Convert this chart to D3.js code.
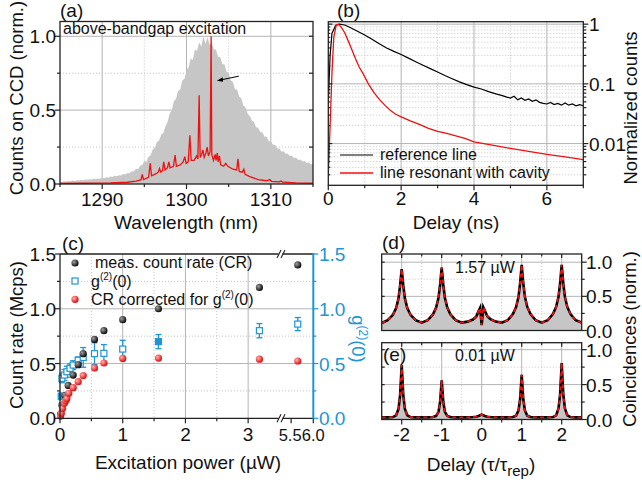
<!DOCTYPE html>
<html>
<head>
<meta charset="utf-8">
<script src="https://cdn.jsdelivr.net/npm/d3@7"></script>
<style>
  body { margin: 0; background: #fff; }
  svg text { font-family: Arial, "Liberation Sans", sans-serif; fill: #111; }
</style>
</head>
<body>
<div id="chart"></div>
<script>
// ---- (a) spectra ----
const specStart = 1285, specStep = 0.25;
const bgSpectrum = [
  0.015,0.014,0.019,0.017,0.021,0.019,0.023,0.021,0.025,0.023,0.028,0.026,0.031,0.028,0.033,0.031,
  0.036,0.033,0.038,0.036,0.042,0.039,0.046,0.043,0.05,0.047,0.056,0.052,0.06,0.058,0.068,0.064,
  0.075,0.072,0.086,0.085,0.103,0.1,0.124,0.128,0.155,0.15,0.185,0.195,0.235,0.245,0.285,0.295,
  0.335,0.345,0.39,0.42,0.475,0.5,0.56,0.575,0.63,0.64,0.70,0.71,0.77,0.79,0.85,0.84,
  0.91,0.9,0.96,0.93,1.0,0.95,0.995,0.94,0.96,0.91,0.91,0.86,0.86,0.81,0.81,0.76,
  0.75,0.7,0.69,0.64,0.64,0.59,0.58,0.53,0.52,0.475,0.46,0.43,0.42,0.385,0.38,0.35,
  0.35,0.32,0.32,0.29,0.29,0.265,0.265,0.24,0.24,0.22,0.222,0.205,0.207,0.19,0.192,0.176,
  0.178,0.163,0.166,0.153,0.156,0.143,0.146,0.133,0.135];
const cavitySpectrum = [[1285,0.004],[1288,0.005],[1291,0.007],[1293,0.012],[1294.0,0.02],[1294.6,0.028],[1294.75,0.065],[1294.9,0.03],
  [1295.5,0.045],[1295.7,0.14],[1295.85,0.055],[1296.4,0.07],[1296.65,0.08],[1296.8,0.105],[1296.95,0.08],[1297.15,0.09],[1297.3,0.15],
  [1297.45,0.095],[1297.75,0.11],[1297.9,0.15],[1298.05,0.11],[1298.45,0.12],[1298.65,0.196],[1298.8,0.12],[1299.3,0.13],[1299.6,0.15],
  [1299.8,0.185],[1299.95,0.14],[1300.2,0.15],[1300.4,0.33],[1300.55,0.16],[1300.9,0.16],[1301.2,0.19],[1301.35,0.17],[1301.5,0.6],
  [1301.62,0.18],[1301.8,0.2],[1301.95,0.23],[1302.1,0.18],[1302.3,0.21],[1302.45,0.25],[1302.6,0.19],[1302.8,0.22],[1302.92,1.0],
  [1303.0,0.2],[1303.2,0.16],[1303.4,0.2],[1303.5,0.16],[1303.65,0.21],[1303.75,0.15],[1303.9,0.19],[1304.05,0.13],[1304.4,0.12],
  [1304.65,0.14],[1304.9,0.12],[1305.5,0.1],[1305.95,0.095],[1306.1,0.17],[1306.25,0.085],[1306.6,0.08],[1306.8,0.1],[1306.95,0.065],
  [1307.5,0.05],[1308.5,0.03],[1309.5,0.022],[1309.85,0.03],[1310.1,0.018],[1311,0.014],[1311.2,0.02],[1311.4,0.012],[1313,0.007],[1315,0.005]];

// ---- (b) decay curves ----
const decayRef = [[0,0.05],[0.05,0.3],[0.1,0.7],[0.2,0.95],[0.3,1.0],[0.45,0.97],[0.6,0.88],[0.8,0.76],[1.0,0.66],[1.2,0.56],
  [1.4,0.47],[1.6,0.4],[1.8,0.35],[2.0,0.31],[2.2,0.27],[2.4,0.235],[2.6,0.205],[2.8,0.18],[3.0,0.158],[3.2,0.138],
  [3.4,0.122],[3.6,0.108],[3.8,0.097],[4.0,0.088],[4.2,0.082],[4.4,0.074],[4.6,0.068],[4.8,0.063],[4.9,0.06],[5.0,0.058],
  [5.1,0.062],[5.2,0.054],[5.3,0.058],[5.4,0.053],[5.5,0.056],[5.6,0.051],[5.7,0.054],[5.8,0.049],[5.9,0.047],[6.0,0.046],
  [6.1,0.049],[6.2,0.045],[6.3,0.047],[6.4,0.044],[6.5,0.048],[6.6,0.044],[6.7,0.046],[6.8,0.043],[6.9,0.045],[7.0,0.043]];
const decayCav = [[0,0.003],[0.05,0.02],[0.1,0.15],[0.15,0.6],[0.22,0.97],[0.27,1.0],[0.35,0.9],[0.45,0.72],[0.55,0.52],[0.65,0.37],
  [0.75,0.26],[0.85,0.19],[0.95,0.15],[1.1,0.1],[1.25,0.072],[1.4,0.055],[1.55,0.044],[1.7,0.036],[1.85,0.031],[2.0,0.028],
  [2.25,0.024],[2.5,0.021],[2.75,0.018],[3.0,0.016],[3.25,0.0148],[3.5,0.0135],[3.75,0.0122],[4.0,0.0107],[4.5,0.0094],
  [5.0,0.0083],[5.5,0.0074],[6.0,0.0066],[6.5,0.006],[7.0,0.0054]];

// ---- (c) power series ----
const powerCR = [0.01,0.03,0.08,0.13,0.21,0.29,0.37,0.55,0.70,1.0,1.57,3.18,5.65];
const measCR  = [0.04,0.12,0.21,0.30,0.395,0.49,0.59,0.72,0.80,0.90,1.0,1.195,1.4];
const powerCorr = [0.01,0.02,0.04,0.07,0.09,0.11,0.14,0.21,0.29,0.37,0.55,0.70,1.0,1.57,3.18,5.65];
const corrCR    = [0.02,0.045,0.09,0.137,0.16,0.18,0.228,0.28,0.334,0.39,0.46,0.505,0.547,0.55,0.54,0.523];
const powerG2 = [0.02,0.03,0.07,0.11,0.16,0.21,0.29,0.37,0.55,0.70,1.0,1.57,3.18,5.65];
const g2      = [0.2,0.365,0.395,0.425,0.456,0.486,0.53,0.556,0.59,0.593,0.632,0.70,0.80,0.86];
const g2Err   = [0.03,0.04,0.05,0.05,0.04,0.04,0.03,0.09,0.1,0.08,0.08,0.065,0.065,0.06];
const g2Solid = [true,false,false,false,false,false,false,false,false,false,false,true,false,false];

// ---- (d),(e) coincidence histograms ----
const peakCenters = [-2,-1,0,1,2];
const peakOffsets = [-0.5,-0.35,-0.22,-0.14,-0.08,-0.04,0,0.04,0.08,0.14,0.22,0.35];
const coincD = [
  [0.11,0.15,0.23,0.33,0.47,0.66,0.9,0.66,0.47,0.33,0.23,0.15],
  [0.115,0.15,0.235,0.335,0.48,0.67,0.92,0.67,0.48,0.335,0.235,0.15],
  [0.115,0.13,0.16,0.2,0.28,0.33,0.08,0.34,0.29,0.21,0.165,0.13],
  [0.115,0.15,0.24,0.345,0.495,0.69,0.96,0.69,0.495,0.345,0.24,0.15],
  [0.115,0.15,0.24,0.345,0.495,0.69,0.96,0.69,0.495,0.345,0.24,0.15]];
const coincDEnd = 0.115;
const coincE = [
  [0.03,0.03,0.035,0.06,0.15,0.35,0.78,0.35,0.15,0.06,0.035,0.03],
  [0.03,0.03,0.035,0.05,0.11,0.25,0.56,0.25,0.11,0.05,0.035,0.03],
  [0.03,0.03,0.035,0.04,0.05,0.06,0.07,0.06,0.05,0.04,0.035,0.03],
  [0.03,0.03,0.035,0.055,0.13,0.29,0.64,0.29,0.13,0.055,0.035,0.03],
  [0.03,0.03,0.035,0.06,0.16,0.36,0.81,0.36,0.16,0.06,0.035,0.03]];
const coincEEnd = 0.03;

const BLUE = "#1e96d4";
const RED = "#ee1111";
const FS = 19;

const svg = d3.select("#chart").append("svg").attr("width", 642).attr("height", 485);
const defs = svg.append("defs");

function ballGrad(id, c0, c1) {
  const g = defs.append("radialGradient").attr("id", id)
    .attr("cx", "35%").attr("cy", "35%").attr("r", "70%");
  g.append("stop").attr("offset", "0%").attr("stop-color", c0);
  g.append("stop").attr("offset", "100%").attr("stop-color", c1);
}
ballGrad("ballK", "#a0a0a0", "#000");
ballGrad("ballR", "#ffb4b4", "#e00000");

defs.append("marker").attr("id", "arr").attr("viewBox", "0 0 10 10")
  .attr("refX", 9).attr("refY", 5).attr("markerWidth", 6).attr("markerHeight", 6)
  .attr("orient", "auto")
  .append("path").attr("d", "M0,1 L10,5 L0,9 z").attr("fill", "#000");

function clip(id, x0, x1, y0, y1) {
  defs.append("clipPath").attr("id", id).append("rect")
    .attr("x", x0).attr("y", y0).attr("width", x1 - x0).attr("height", y1 - y0);
}

// gridlines: solid majors, dotted minors
function grid(g, xs, ys, x0, x1, y0, y1, solidX, dotX, solidY, dotY) {
  solidX.forEach(v => g.append("line").attr("x1", xs(v)).attr("x2", xs(v)).attr("y1", y0).attr("y2", y1)
    .attr("stroke", "#b4b4b4").attr("stroke-width", 1));
  dotX.forEach(v => g.append("line").attr("x1", xs(v)).attr("x2", xs(v)).attr("y1", y0).attr("y2", y1)
    .attr("stroke", "#c4c4c4").attr("stroke-width", 1).attr("stroke-dasharray", "1,2"));
  solidY.forEach(v => g.append("line").attr("y1", ys(v)).attr("y2", ys(v)).attr("x1", x0).attr("x2", x1)
    .attr("stroke", "#b4b4b4").attr("stroke-width", 1));
  dotY.forEach(v => g.append("line").attr("y1", ys(v)).attr("y2", ys(v)).attr("x1", x0).attr("x2", x1)
    .attr("stroke", "#c4c4c4").attr("stroke-width", 1).attr("stroke-dasharray", "1,2"));
}

function xTicks(g, pos, y, len, col) {
  pos.forEach(p => g.append("line").attr("x1", p).attr("x2", p).attr("y1", y).attr("y2", y + len)
    .attr("stroke", col || "#222").attr("stroke-width", 1.2));
}
function yTicks(g, pos, x, len, col) {
  pos.forEach(p => g.append("line").attr("y1", p).attr("y2", p).attr("x1", x).attr("x2", x + len)
    .attr("stroke", col || "#222").attr("stroke-width", 1.2));
}
function frame(g, x0, x1, y0, y1) {
  g.append("rect").attr("x", x0).attr("y", y0).attr("width", x1 - x0).attr("height", y1 - y0)
    .attr("fill", "none").attr("stroke", "#222").attr("stroke-width", 1.3);
}
function label(g, x, y, txt, anchor, size, col) {
  return g.append("text").attr("x", x).attr("y", y).attr("text-anchor", anchor || "start")
    .attr("font-size", size || FS).style("fill", col || "#111").text(txt);
}

// ================= (a) =================
const gA = svg.append("g");
const xA = d3.scaleLinear().domain([1285, 1315]).range([60, 313]);
const yA = d3.scaleLinear().domain([0, 1.1]).range([184, 21.5]);
grid(gA, xA, yA, 60, 313, 21.5, 184, [1290, 1300, 1310], [1295, 1305], [0.5, 1.0], [0.25, 0.75]);

gA.append("path").datum(bgSpectrum)
  .attr("fill", "#c6c6c6")
  .attr("d", d3.area().x((d, i) => xA(specStart + i * specStep)).y0(yA(0)).y1(d => yA(d)));
gA.append("path").datum(cavitySpectrum)
  .attr("fill", "none").attr("stroke", RED).attr("stroke-width", 1.3)
  .attr("d", d3.line().x(d => xA(d[0])).y(d => yA(d[1])));

gA.append("line")
  .attr("x1", xA(1306.2)).attr("y1", yA(0.73)).attr("x2", xA(1303.7)).attr("y2", yA(0.70))
  .attr("stroke", "#000").attr("stroke-width", 1).attr("marker-end", "url(#arr)");

frame(gA, 60, 313, 21.5, 184);
xTicks(gA, [1290, 1300, 1310].map(xA), 184, 5);
xTicks(gA, [1285, 1295, 1305, 1315].map(xA), 184, 3);
yTicks(gA, [0, 0.5, 1.0].map(yA), 55, 5);
yTicks(gA, [0.25, 0.75].map(yA), 57, 3);
yTicks(gA, [0.25, 0.5, 0.75, 1.0].map(yA), 309, 4);
[1290, 1300, 1310].forEach(v => label(gA, xA(v), 206, v, "middle"));
[0, 0.5, 1.0].forEach(v => label(gA, 56, yA(v) + 7, v.toFixed(1), "end"));
label(gA, 186, 229, "Wavelength (nm)", "middle");
label(gA, 0, 0, "Counts on CCD (norm.)", "middle", 18.5).attr("transform", "translate(23,98) rotate(-90)");
label(gA, 60, 17, "(a)", "start");
label(gA, 63, 34, "above-bandgap excitation", "start", 16);

// ================= (b) =================
const gB = svg.append("g");
const xB = d3.scaleLinear().domain([0, 7]).range([328.3, 583.3]);
const yB = d3.scaleLog().domain([0.002, 1.1]).range([185.3, 21.7]);
const minorLog = [];
[0.001, 0.01, 0.1, 1].forEach(dec => d3.range(2, 10).forEach(k => {
  const v = k * dec; if (v > 0.002 && v < 1.1) minorLog.push(v);
}));
grid(gB, xB, yB, 328.3, 583.3, 21.7, 185.3, [2, 4, 6], [1, 3, 5], [0.01, 0.1, 1], minorLog);
clip("clipB", 328.3, 583.3, 21.7, 185.3);
const lineB = d3.line().x(d => xB(d[0])).y(d => yB(d[1]));
gB.append("path").datum(decayRef).attr("clip-path", "url(#clipB)")
  .attr("fill", "none").attr("stroke", "#000").attr("stroke-width", 1.2).attr("d", lineB);
gB.append("path").datum(decayCav).attr("clip-path", "url(#clipB)")
  .attr("fill", "none").attr("stroke", RED).attr("stroke-width", 1.3).attr("d", lineB);
frame(gB, 328.3, 583.3, 21.7, 185.3);
xTicks(gB, [0, 2, 4, 6].map(xB), 185.3, 5);
xTicks(gB, [1, 3, 5, 7].map(xB), 185.3, 3);
yTicks(gB, [0.01, 0.1, 1].map(yB), 583.3, 5);
yTicks(gB, minorLog.map(yB), 583.3, 3);
yTicks(gB, [0.01, 0.1, 1].map(yB), 328.3, 4);
yTicks(gB, minorLog.map(yB), 328.3, 2);
[0, 2, 4, 6].forEach(v => label(gB, xB(v), 205, v, "middle"));
[[1, "1"], [0.1, "0.1"], [0.01, "0.01"]].forEach(d => label(gB, 589, yB(d[0]) + 7, d[1], "start"));
label(gB, 456, 229, "Delay (ns)", "middle");
label(gB, 0, 0, "Normalized counts", "middle", 18.5).attr("transform", "translate(637,108) rotate(-90)");
label(gB, 337, 17, "(b)", "start");
// legend
gB.append("line").attr("x1", 340).attr("x2", 373).attr("y1", 155).attr("y2", 155).attr("stroke", "#000").attr("stroke-width", 1.2);
gB.append("line").attr("x1", 340).attr("x2", 373).attr("y1", 173).attr("y2", 173).attr("stroke", RED).attr("stroke-width", 1.3);
label(gB, 380, 160, "reference line", "start", 16);
label(gB, 380, 178, "line resonant with cavity", "start", 16);

// ================= (c) =================
const gC = svg.append("g");
const xC1 = d3.scaleLinear().domain([0, 3.5]).range([60, 279.5]);
const xC2 = d3.scaleLinear().domain([5.25, 6.0]).range([280, 313.3]);
const xC = v => (v <= 3.5 ? xC1(v) : xC2(v));
const yC = d3.scaleLinear().domain([0, 1.5]).range([418.3, 254]);
grid(gC, xC, yC, 60, 313.3, 254, 418.3, [1, 2, 3], [0.5, 1.5, 2.5], [0.5, 1.0], [0.25, 0.75, 1.25]);

// g2 error bars and squares
powerG2.forEach((p, i) => {
  const x = xC(p);
  const yt = yC(g2[i] + g2Err[i]), yb = yC(g2[i] - g2Err[i]);
  gC.append("line").attr("x1", x).attr("x2", x).attr("y1", yt).attr("y2", yb).attr("stroke", BLUE).attr("stroke-width", 1.3);
  gC.append("line").attr("x1", x - 3).attr("x2", x + 3).attr("y1", yt).attr("y2", yt).attr("stroke", BLUE).attr("stroke-width", 1.3);
  gC.append("line").attr("x1", x - 3).attr("x2", x + 3).attr("y1", yb).attr("y2", yb).attr("stroke", BLUE).attr("stroke-width", 1.3);
});
gC.selectAll("rect.g2").data(powerG2).enter().append("rect")
  .attr("x", d => xC(d) - 3).attr("y", (d, i) => yC(g2[i]) - 3)
  .attr("width", 6).attr("height", 6)
  .attr("fill", (d, i) => (g2Solid[i] ? BLUE : "#fff"))
  .attr("stroke", BLUE).attr("stroke-width", 1.2);

gC.selectAll("circle.meas").data(powerCR).enter().append("circle")
  .attr("cx", d => xC(d)).attr("cy", (d, i) => yC(measCR[i])).attr("r", 3.6)
  .attr("fill", "url(#ballK)");
gC.selectAll("circle.corr").data(powerCorr).enter().append("circle")
  .attr("cx", d => xC(d)).attr("cy", (d, i) => yC(corrCR[i])).attr("r", 3.6)
  .attr("fill", "url(#ballR)");

// frame with blue right axis
gC.append("line").attr("x1", 60).attr("x2", 313.3).attr("y1", 254).attr("y2", 254).attr("stroke", "#222").attr("stroke-width", 1.3);
gC.append("line").attr("x1", 60).attr("x2", 313.3).attr("y1", 418.3).attr("y2", 418.3).attr("stroke", "#222").attr("stroke-width", 1.3);
gC.append("line").attr("x1", 60).attr("x2", 60).attr("y1", 254).attr("y2", 418.3).attr("stroke", "#222").attr("stroke-width", 1.3);
gC.append("line").attr("x1", 313.3).attr("x2", 313.3).attr("y1", 253).attr("y2", 419).attr("stroke", BLUE).attr("stroke-width", 2);
// axis break marks
[254, 418.3].forEach(y => {
  gC.append("rect").attr("x", 278.5).attr("y", y - 2).attr("width", 4).attr("height", 4).attr("fill", "#fff");
  [277, 281].forEach(x => gC.append("line").attr("x1", x).attr("y1", y + 4).attr("x2", x + 4).attr("y2", y - 4)
    .attr("stroke", "#222").attr("stroke-width", 1.1));
});
xTicks(gC, [0, 1, 2, 3, 5.5, 6.0].map(xC), 418.3, 5);
xTicks(gC, [0.5, 1.5, 2.5].map(xC), 418.3, 3);
yTicks(gC, [0, 0.5, 1.0, 1.5].map(yC), 55, 5);
yTicks(gC, [0.25, 0.75, 1.25].map(yC), 57, 3);
yTicks(gC, [0, 0.5, 1.0, 1.5].map(yC), 313.3, 5, BLUE);
yTicks(gC, [0.25, 0.75, 1.25].map(yC), 313.3, 3, BLUE);
[[0, "0"], [1, "1"], [2, "2"], [3, "3"]].forEach(d => label(gC, xC(d[0]), 441, d[1], "middle"));
label(gC, xC(5.5) - 1, 441, "5.5", "middle", 16.5);
label(gC, xC(6.0), 441, "6.0", "middle", 16.5);
[0, 0.5, 1.0, 1.5].forEach(v => label(gC, 56, yC(v) + 7, v.toFixed(1), "end"));
[0, 0.5, 1.0, 1.5].forEach(v => label(gC, 319, yC(v) + 7, v.toFixed(1), "start", FS, BLUE));
label(gC, 188, 469, "Excitation power (\u00b5W)", "middle");
label(gC, 0, 0, "Count rate (Mcps)", "middle", 18.5).attr("transform", "translate(23,335) rotate(-90)");
const g2Title = gC.append("text").attr("text-anchor", "middle").attr("font-size", 18.5).style("fill", BLUE)
  .attr("transform", "translate(352,339) rotate(90)");
g2Title.append("tspan").text("g");
g2Title.append("tspan").attr("font-size", 12).attr("dy", -7).text("(2)");
g2Title.append("tspan").attr("dy", 7).text("(0)");
label(gC, 62, 250, "(c)", "start");
// legend
gC.append("circle").attr("cx", 75).attr("cy", 263).attr("r", 3.6).attr("fill", "url(#ballK)");
gC.append("rect").attr("x", 72).attr("y", 278).attr("width", 6).attr("height", 6).attr("fill", "#fff").attr("stroke", BLUE).attr("stroke-width", 1.2);
gC.append("circle").attr("cx", 75).attr("cy", 299.3).attr("r", 3.6).attr("fill", "url(#ballR)");
label(gC, 95, 268, "meas. count rate (CR)", "start", 16);
const lg2 = gC.append("text").attr("x", 91).attr("y", 287).attr("font-size", 16);
lg2.append("tspan").text("g");
lg2.append("tspan").attr("font-size", 10).attr("dy", -7).text("(2)");
lg2.append("tspan").attr("dy", 7).text("(0)");
const lg3 = gC.append("text").attr("x", 91).attr("y", 305).attr("font-size", 16);
lg3.append("tspan").text("CR corrected for g");
lg3.append("tspan").attr("font-size", 10).attr("dy", -7).text("(2)");
lg3.append("tspan").attr("dy", 7).text("(0)");

// ================= (d),(e) =================
const xD = d3.scaleLinear().domain([-2.5, 2.5]).range([381.7, 581.7]);
function histPoints(vals, end) {
  const pts = [];
  peakCenters.forEach((c, i) => peakOffsets.forEach((o, j) => pts.push([c + o, vals[i][j]])));
  pts.push([2.5, end]);
  return pts;
}
function histPanel(id, vals, end, y0, y1, ymax, tag, power, showBottom) {
  const g = svg.append("g");
  const ys = d3.scaleLinear().domain([0, ymax]).range([y1, y0]);
  grid(g, xD, ys, 381.7, 581.7, y0, y1, [-2, -1, 0, 1, 2], [-1.5, -0.5, 0.5, 1.5], [0.5, 1.0], [0.25, 0.75]);
  clip(id, 381.7, 581.7, y0, y1);
  const pts = histPoints(vals, end);
  g.append("path").datum(pts).attr("clip-path", "url(#" + id + ")").attr("fill", "#c6c6c6")
    .attr("d", d3.area().x(d => xD(d[0])).y0(ys(0)).y1(d => ys(d[1])));
  g.append("path").datum(pts).attr("clip-path", "url(#" + id + ")").attr("fill", "none")
    .attr("stroke", "#000").attr("stroke-width", 2.6).attr("d", d3.line().x(d => xD(d[0])).y(d => ys(d[1])));
  g.append("path").datum(pts).attr("clip-path", "url(#" + id + ")").attr("fill", "none")
    .attr("stroke", RED).attr("stroke-width", 1.8).attr("stroke-dasharray", "4,3")
    .attr("d", d3.line().x(d => xD(d[0])).y(d => ys(d[1])));
  frame(g, 381.7, 581.7, y0, y1);
  xTicks(g, [-2, -1, 0, 1, 2].map(xD), y0, 4);
  xTicks(g, [-1.5, -0.5, 0.5, 1.5].map(xD), y0, 2.5);
  if (showBottom) {
    xTicks(g, [-2, -1, 0, 1, 2].map(xD), y1, 5);
    xTicks(g, [-1.5, -0.5, 0.5, 1.5].map(xD), y1, 3);
  }
  yTicks(g, [0, 0.5, 1.0].map(ys), 581.7, 5);
  yTicks(g, [0.25, 0.75].map(ys), 581.7, 3);
  yTicks(g, [0.25, 0.5, 0.75, 1.0].map(ys), 381.7, 3);
  [0, 0.5, 1.0].forEach(v => label(g, 586, ys(v) + 7, v.toFixed(1), "start"));
  label(g, 455, tag === "(d)" ? 273 : 361, power, "start", 16);
  return g;
}
const gD = histPanel("clipD", coincD, coincDEnd, 254, 330.5, 1.12, "(d)", "1.57 \u00b5W", false);
label(gD, 382, 249, "(d)", "start");
const gE = histPanel("clipE", coincE, coincEEnd, 342.7, 419.5, 1.1, "(e)", "0.01 \u00b5W", true);
label(gE, 383, 361, "(e)", "start");
[-2, -1, 0, 1, 2].forEach(v => label(gE, xD(v), 441, v, "middle"));
const dTitle = gE.append("text").attr("x", 481).attr("y", 471).attr("text-anchor", "middle").attr("font-size", FS);
dTitle.append("tspan").text("Delay (\u03c4/\u03c4");
dTitle.append("tspan").attr("font-size", 15).attr("dy", 5).text("rep");
dTitle.append("tspan").attr("dy", -5).text(")");
label(gE, 0, 0, "Coincidences (norm.)", "middle", 18.5).attr("transform", "translate(636,339) rotate(-90)");
</script>
</body>
</html>
